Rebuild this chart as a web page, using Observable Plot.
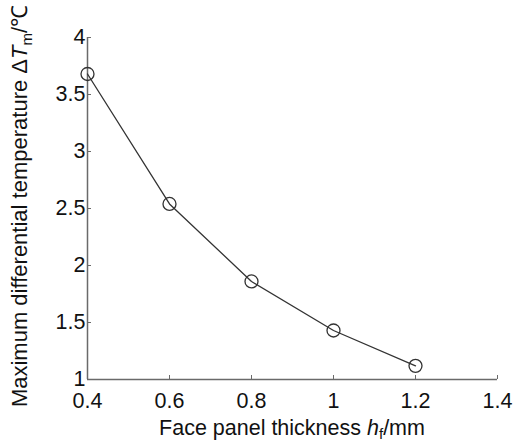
<!DOCTYPE html>
<html>
<head>
<meta charset="utf-8">
<script src="https://cdn.jsdelivr.net/npm/d3@7"></script>
<script src="https://cdn.jsdelivr.net/npm/@observablehq/plot@0.6"></script>
<style>
  html, body { margin: 0; padding: 0; background: #fff; }
  svg { font-family: "Liberation Sans", Arial, sans-serif; }
</style>
</head>
<body>
<div id="chart"></div>
<script>
const thickness = [0.4, 0.6, 0.8, 1.0, 1.2];
const deltaT = [3.68, 2.54, 1.86, 1.43, 1.12];
const xTicks = [0.4, 0.6, 0.8, 1.0, 1.2, 1.4];
const yTicks = [1, 1.5, 2, 2.5, 3, 3.5, 4];

const data = thickness.map((t, i) => ({x: t, y: deltaT[i]}));

const axisColor = "#6a6a6a";
const lineColor = "#333333";

const chart = Plot.plot({
  width: 513,
  height: 443,
  marginLeft: 87,
  marginRight: 16,
  marginTop: 37,
  marginBottom: 64,
  style: {fontFamily: "'Liberation Sans', Arial, sans-serif", fontSize: "21.5px", color: "#111", background: "#fff"},
  x: {domain: [0.4, 1.4]},
  y: {domain: [1, 4]},
  marks: [
    Plot.ruleX([0.4], {stroke: axisColor, strokeWidth: 1.5}),
    Plot.ruleY([1], {stroke: axisColor, strokeWidth: 1.5}),
    Plot.axisX({ticks: xTicks, tickSize: -4, tickPadding: 17.5, fontSize: 21.5, tickFormat: d => String(+d.toFixed(1)), stroke: axisColor, fill: "#111", label: null}),
    Plot.axisY({ticks: yTicks, tickSize: -4, tickPadding: 6, fontSize: 21.5, tickFormat: d => String(d), stroke: axisColor, fill: "#111", label: null}),
    Plot.line(data, {x: "x", y: "y", stroke: lineColor, strokeWidth: 1.3}),
    Plot.dot(data, {x: "x", y: "y", r: 6.5, stroke: lineColor, strokeWidth: 1.3, fill: "none"})
  ]
});

document.getElementById("chart").appendChild(chart);

const svg = d3.select(chart);
// x-axis title
const xt = svg.append("text")
  .attr("x", 292).attr("y", 434.5)
  .attr("text-anchor", "middle")
  .attr("font-size", 21.5).attr("fill", "#111");
xt.append("tspan").text("Face panel thickness ");
xt.append("tspan").attr("font-style", "italic").text("h");
xt.append("tspan").attr("font-size", 15).attr("dy", 4).text("f");
xt.append("tspan").attr("dy", -4).text("/mm");

// y-axis title
const yt = svg.append("text")
  .attr("transform", "translate(27,206) rotate(-90)")
  .attr("text-anchor", "middle")
  .attr("font-size", 22).attr("fill", "#111");
yt.append("tspan").text("Maximum differential temperature Δ");
yt.append("tspan").attr("font-style", "italic").text("T");
yt.append("tspan").attr("font-size", 15).attr("dy", 5).text("m");
yt.append("tspan").attr("dy", -5).text("/℃");
</script>
</body>
</html>
